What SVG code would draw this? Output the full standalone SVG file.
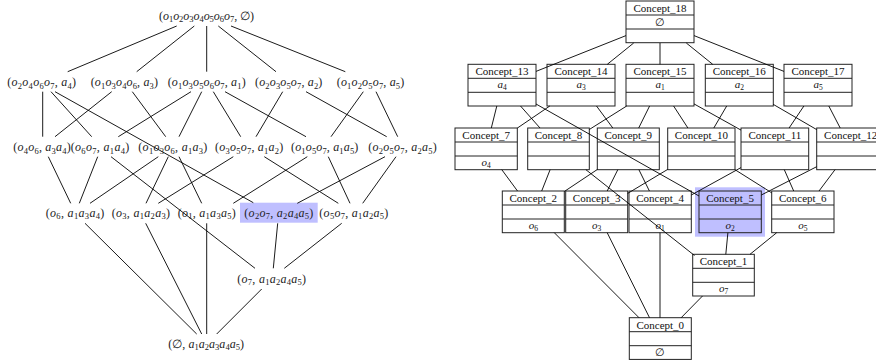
<svg xmlns="http://www.w3.org/2000/svg" width="876" height="360" viewBox="0 0 876 360">
<style>
.lt{font-family:"Liberation Serif","DejaVu Serif",serif;font-size:12px;fill:#222}
.i{font-style:italic}
.s{font-size:8.5px}
.ss{font-size:7.5px}
.e line{stroke:#000;stroke-width:0.9}
.bx{fill:#fff;stroke:#222;stroke-width:1}
.dv{stroke:#222;stroke-width:1;fill:none}
.ct{font-family:"Liberation Serif","DejaVu Serif",serif;font-size:11px;fill:#111;text-anchor:middle}
.hl{fill:#bfbfff}
</style>
<rect width="876" height="360" fill="#fff"/>

<!-- LEFT LATTICE -->
<rect class="hl" x="240" y="202.7" width="77.7" height="20"/>
<g id="edges-left" class="e">
<line x1="176.7" y1="26" x2="67.7" y2="71.7"/>
<line x1="194.3" y1="26" x2="136.7" y2="71.7"/>
<line x1="206.7" y1="26" x2="206.7" y2="71.7"/>
<line x1="218.3" y1="26" x2="276" y2="71.7"/>
<line x1="231" y1="26" x2="345.3" y2="71.7"/>
<line x1="42.7" y1="91.7" x2="42.7" y2="136.7"/>
<line x1="51" y1="91.7" x2="91.7" y2="136.7"/>
<line x1="55" y1="91.7" x2="253.3" y2="202.7"/>
<line x1="111.7" y1="91.7" x2="55" y2="136.7"/>
<line x1="132.3" y1="91.7" x2="165.7" y2="136.7"/>
<line x1="191" y1="91.7" x2="118.3" y2="136.7"/>
<line x1="201.7" y1="91.7" x2="179" y2="136.7"/>
<line x1="213.3" y1="91.7" x2="240.7" y2="136.7"/>
<line x1="225" y1="91.7" x2="306" y2="136.7"/>
<line x1="282.7" y1="91.7" x2="256" y2="136.7"/>
<line x1="306" y1="91.7" x2="386.7" y2="136.7"/>
<line x1="363.3" y1="91.7" x2="331" y2="136.7"/>
<line x1="376" y1="91.7" x2="397.7" y2="136.7"/>
<line x1="48.3" y1="156.7" x2="70.7" y2="203.3"/>
<line x1="97.7" y1="156.7" x2="79.3" y2="203.3"/>
<line x1="111" y1="156.7" x2="255" y2="268.3"/>
<line x1="158.3" y1="156.7" x2="90" y2="203.3"/>
<line x1="168.3" y1="156.7" x2="146" y2="203.3"/>
<line x1="179" y1="156.7" x2="201.7" y2="203.3"/>
<line x1="233.3" y1="156.7" x2="158.3" y2="203.3"/>
<line x1="264.3" y1="156.7" x2="338.3" y2="203.3"/>
<line x1="307.3" y1="156.7" x2="233.3" y2="203.3"/>
<line x1="328.3" y1="156.7" x2="350" y2="203.3"/>
<line x1="385" y1="156.7" x2="297.3" y2="203.3"/>
<line x1="396" y1="156.7" x2="362.7" y2="203.3"/>
<line x1="85" y1="223.3" x2="196.7" y2="334"/>
<line x1="145.7" y1="223.3" x2="201.7" y2="334"/>
<line x1="206.7" y1="223.3" x2="206.7" y2="334"/>
<line x1="277.7" y1="223.3" x2="273.3" y2="268.3"/>
<line x1="341.7" y1="223.3" x2="284.3" y2="268.3"/>
<line x1="261.7" y1="289" x2="216.7" y2="334"/>
</g>

<g id="l18"><text class="lt" x="159" y="19.5" textLength="95">(<tspan class="i">o</tspan><tspan class="s" dy="2.5">1</tspan><tspan class="i" dy="-2.5">o</tspan><tspan class="s" dy="2.5">2</tspan><tspan class="i" dy="-2.5">o</tspan><tspan class="s" dy="2.5">3</tspan><tspan class="i" dy="-2.5">o</tspan><tspan class="s" dy="2.5">4</tspan><tspan class="i" dy="-2.5">o</tspan><tspan class="s" dy="2.5">5</tspan><tspan class="i" dy="-2.5">o</tspan><tspan class="s" dy="2.5">6</tspan><tspan class="i" dy="-2.5">o</tspan><tspan class="s" dy="2.5">7</tspan><tspan dy="-2.5">, ∅)</tspan></text></g>

<g id="l13"><text class="lt" x="7.3" y="86.2" textLength="68.7">(<tspan class="i">o</tspan><tspan class="s" dy="2.5">2</tspan><tspan class="i" dy="-2.5">o</tspan><tspan class="s" dy="2.5">4</tspan><tspan class="i" dy="-2.5">o</tspan><tspan class="s" dy="2.5">6</tspan><tspan class="i" dy="-2.5">o</tspan><tspan class="s" dy="2.5">7</tspan><tspan dy="-2.5">, </tspan><tspan class="i">a</tspan><tspan class="s" dy="2.5">4</tspan><tspan dy="-2.5">)</tspan></text></g>
<g id="l14"><text class="lt" x="90.7" y="86.2" textLength="67.3">(<tspan class="i">o</tspan><tspan class="s" dy="2.5">1</tspan><tspan class="i" dy="-2.5">o</tspan><tspan class="s" dy="2.5">3</tspan><tspan class="i" dy="-2.5">o</tspan><tspan class="s" dy="2.5">4</tspan><tspan class="i" dy="-2.5">o</tspan><tspan class="s" dy="2.5">6</tspan><tspan dy="-2.5">, </tspan><tspan class="i">a</tspan><tspan class="s" dy="2.5">3</tspan><tspan dy="-2.5">)</tspan></text></g>
<g id="l15"><text class="lt" x="167.7" y="86.2" textLength="78">(<tspan class="i">o</tspan><tspan class="s" dy="2.5">1</tspan><tspan class="i" dy="-2.5">o</tspan><tspan class="s" dy="2.5">3</tspan><tspan class="i" dy="-2.5">o</tspan><tspan class="s" dy="2.5">5</tspan><tspan class="i" dy="-2.5">o</tspan><tspan class="s" dy="2.5">6</tspan><tspan class="i" dy="-2.5">o</tspan><tspan class="s" dy="2.5">7</tspan><tspan dy="-2.5">, </tspan><tspan class="i">a</tspan><tspan class="s" dy="2.5">1</tspan><tspan dy="-2.5">)</tspan></text></g>
<g id="l16"><text class="lt" x="255" y="86.2" textLength="67.3">(<tspan class="i">o</tspan><tspan class="s" dy="2.5">2</tspan><tspan class="i" dy="-2.5">o</tspan><tspan class="s" dy="2.5">3</tspan><tspan class="i" dy="-2.5">o</tspan><tspan class="s" dy="2.5">5</tspan><tspan class="i" dy="-2.5">o</tspan><tspan class="s" dy="2.5">7</tspan><tspan dy="-2.5">, </tspan><tspan class="i">a</tspan><tspan class="s" dy="2.5">2</tspan><tspan dy="-2.5">)</tspan></text></g>
<g id="l17"><text class="lt" x="336.7" y="86.2" textLength="67.6">(<tspan class="i">o</tspan><tspan class="s" dy="2.5">1</tspan><tspan class="i" dy="-2.5">o</tspan><tspan class="s" dy="2.5">2</tspan><tspan class="i" dy="-2.5">o</tspan><tspan class="s" dy="2.5">5</tspan><tspan class="i" dy="-2.5">o</tspan><tspan class="s" dy="2.5">7</tspan><tspan dy="-2.5">, </tspan><tspan class="i">a</tspan><tspan class="s" dy="2.5">5</tspan><tspan dy="-2.5">)</tspan></text></g>

<g id="l7"><text class="lt" x="13.3" y="151.2" textLength="57.4">(<tspan class="i">o</tspan><tspan class="s" dy="2.5">4</tspan><tspan class="i" dy="-2.5">o</tspan><tspan class="s" dy="2.5">6</tspan><tspan dy="-2.5">, </tspan><tspan class="i">a</tspan><tspan class="s" dy="2.5">3</tspan><tspan class="i" dy="-2.5">a</tspan><tspan class="s" dy="2.5">4</tspan><tspan dy="-2.5">)</tspan></text></g>
<g id="l8"><text class="lt" x="70.7" y="151.2" textLength="58.6">(<tspan class="i">o</tspan><tspan class="s" dy="2.5">6</tspan><tspan class="i" dy="-2.5">o</tspan><tspan class="s" dy="2.5">7</tspan><tspan dy="-2.5">, </tspan><tspan class="i">a</tspan><tspan class="s" dy="2.5">1</tspan><tspan class="i" dy="-2.5">a</tspan><tspan class="s" dy="2.5">4</tspan><tspan dy="-2.5">)</tspan></text></g>
<g id="l9"><text class="lt" x="138.3" y="151.2" textLength="69">(<tspan class="i">o</tspan><tspan class="s" dy="2.5">1</tspan><tspan class="i" dy="-2.5">o</tspan><tspan class="s" dy="2.5">3</tspan><tspan class="i" dy="-2.5">o</tspan><tspan class="s" dy="2.5">6</tspan><tspan dy="-2.5">, </tspan><tspan class="i">a</tspan><tspan class="s" dy="2.5">1</tspan><tspan class="i" dy="-2.5">a</tspan><tspan class="s" dy="2.5">3</tspan><tspan dy="-2.5">)</tspan></text></g>
<g id="l10"><text class="lt" x="215" y="151.2" textLength="68.3">(<tspan class="i">o</tspan><tspan class="s" dy="2.5">3</tspan><tspan class="i" dy="-2.5">o</tspan><tspan class="s" dy="2.5">5</tspan><tspan class="i" dy="-2.5">o</tspan><tspan class="s" dy="2.5">7</tspan><tspan dy="-2.5">, </tspan><tspan class="i">a</tspan><tspan class="s" dy="2.5">1</tspan><tspan class="i" dy="-2.5">a</tspan><tspan class="s" dy="2.5">2</tspan><tspan dy="-2.5">)</tspan></text></g>
<g id="l11"><text class="lt" x="291" y="151.2" textLength="67.3">(<tspan class="i">o</tspan><tspan class="s" dy="2.5">1</tspan><tspan class="i" dy="-2.5">o</tspan><tspan class="s" dy="2.5">5</tspan><tspan class="i" dy="-2.5">o</tspan><tspan class="s" dy="2.5">7</tspan><tspan dy="-2.5">, </tspan><tspan class="i">a</tspan><tspan class="s" dy="2.5">1</tspan><tspan class="i" dy="-2.5">a</tspan><tspan class="s" dy="2.5">5</tspan><tspan dy="-2.5">)</tspan></text></g>
<g id="l12"><text class="lt" x="368.3" y="151.2" textLength="68.4">(<tspan class="i">o</tspan><tspan class="s" dy="2.5">2</tspan><tspan class="i" dy="-2.5">o</tspan><tspan class="s" dy="2.5">5</tspan><tspan class="i" dy="-2.5">o</tspan><tspan class="s" dy="2.5">7</tspan><tspan dy="-2.5">, </tspan><tspan class="i">a</tspan><tspan class="s" dy="2.5">2</tspan><tspan class="i" dy="-2.5">a</tspan><tspan class="s" dy="2.5">5</tspan><tspan dy="-2.5">)</tspan></text></g>

<g id="l2"><text class="lt" x="45.7" y="216.8" textLength="58.6">(<tspan class="i">o</tspan><tspan class="s" dy="2.5">6</tspan><tspan dy="-2.5">, </tspan><tspan class="i">a</tspan><tspan class="s" dy="2.5">1</tspan><tspan class="i" dy="-2.5">a</tspan><tspan class="s" dy="2.5">3</tspan><tspan class="i" dy="-2.5">a</tspan><tspan class="s" dy="2.5">4</tspan><tspan dy="-2.5">)</tspan></text></g>
<g id="l3"><text class="lt" x="111.7" y="216.8" textLength="58.3">(<tspan class="i">o</tspan><tspan class="s" dy="2.5">3</tspan><tspan dy="-2.5">, </tspan><tspan class="i">a</tspan><tspan class="s" dy="2.5">1</tspan><tspan class="i" dy="-2.5">a</tspan><tspan class="s" dy="2.5">2</tspan><tspan class="i" dy="-2.5">a</tspan><tspan class="s" dy="2.5">3</tspan><tspan dy="-2.5">)</tspan></text></g>
<g id="l4"><text class="lt" x="177.7" y="216.8" textLength="58">(<tspan class="i">o</tspan><tspan class="s" dy="2.5">1</tspan><tspan dy="-2.5">, </tspan><tspan class="i">a</tspan><tspan class="s" dy="2.5">1</tspan><tspan class="i" dy="-2.5">a</tspan><tspan class="s" dy="2.5">3</tspan><tspan class="i" dy="-2.5">a</tspan><tspan class="s" dy="2.5">5</tspan><tspan dy="-2.5">)</tspan></text></g>
<g id="l5"><text class="lt" x="244.3" y="216.8" textLength="69">(<tspan class="i">o</tspan><tspan class="s" dy="2.5">2</tspan><tspan class="i" dy="-2.5">o</tspan><tspan class="s" dy="2.5">7</tspan><tspan dy="-2.5">, </tspan><tspan class="i">a</tspan><tspan class="s" dy="2.5">2</tspan><tspan class="i" dy="-2.5">a</tspan><tspan class="s" dy="2.5">4</tspan><tspan class="i" dy="-2.5">a</tspan><tspan class="s" dy="2.5">5</tspan><tspan dy="-2.5">)</tspan></text></g>
<g id="l6"><text class="lt" x="319.3" y="216.8" textLength="69">(<tspan class="i">o</tspan><tspan class="s" dy="2.5">5</tspan><tspan class="i" dy="-2.5">o</tspan><tspan class="s" dy="2.5">7</tspan><tspan dy="-2.5">, </tspan><tspan class="i">a</tspan><tspan class="s" dy="2.5">1</tspan><tspan class="i" dy="-2.5">a</tspan><tspan class="s" dy="2.5">2</tspan><tspan class="i" dy="-2.5">a</tspan><tspan class="s" dy="2.5">5</tspan><tspan dy="-2.5">)</tspan></text></g>

<g id="l1"><text class="lt" x="237.3" y="282.5" textLength="68.7">(<tspan class="i">o</tspan><tspan class="s" dy="2.5">7</tspan><tspan dy="-2.5">, </tspan><tspan class="i">a</tspan><tspan class="s" dy="2.5">1</tspan><tspan class="i" dy="-2.5">a</tspan><tspan class="s" dy="2.5">2</tspan><tspan class="i" dy="-2.5">a</tspan><tspan class="s" dy="2.5">4</tspan><tspan class="i" dy="-2.5">a</tspan><tspan class="s" dy="2.5">5</tspan><tspan dy="-2.5">)</tspan></text></g>
<g id="l0"><text class="lt" x="168.3" y="347.5" textLength="75.7">(∅, <tspan class="i">a</tspan><tspan class="s" dy="2.5">1</tspan><tspan class="i" dy="-2.5">a</tspan><tspan class="s" dy="2.5">2</tspan><tspan class="i" dy="-2.5">a</tspan><tspan class="s" dy="2.5">3</tspan><tspan class="i" dy="-2.5">a</tspan><tspan class="s" dy="2.5">4</tspan><tspan class="i" dy="-2.5">a</tspan><tspan class="s" dy="2.5">5</tspan><tspan dy="-2.5">)</tspan></text></g>

<!-- RIGHT LATTICE -->
<rect class="hl" x="695" y="187.3" width="70" height="49.4"/>

<g id="c18"><rect class="bx" x="626" y="1" width="68" height="41.7"/><path class="dv" d="M626 15h68M626 29h68"/><text class="ct" x="660" y="12">Concept_18</text><text class="ct" x="660" y="25.5">∅</text></g>

<g id="c13"><rect class="bx" x="468" y="64.3" width="68" height="41.7"/><path class="dv" d="M468 78.3h68M468 92.3h68"/><text class="ct" x="502" y="75.3">Concept_13</text><text class="ct" x="502" y="88.3"><tspan class="i">a</tspan><tspan class="ss" dy="2">4</tspan></text></g>
<g id="c14"><rect class="bx" x="547" y="64.3" width="68" height="41.7"/><path class="dv" d="M547 78.3h68M547 92.3h68"/><text class="ct" x="581" y="75.3">Concept_14</text><text class="ct" x="581" y="88.3"><tspan class="i">a</tspan><tspan class="ss" dy="2">3</tspan></text></g>
<g id="c15"><rect class="bx" x="626" y="64.3" width="68" height="41.7"/><path class="dv" d="M626 78.3h68M626 92.3h68"/><text class="ct" x="660" y="75.3">Concept_15</text><text class="ct" x="660" y="88.3"><tspan class="i">a</tspan><tspan class="ss" dy="2">1</tspan></text></g>
<g id="c16"><rect class="bx" x="705.3" y="64.3" width="68" height="41.7"/><path class="dv" d="M705.3 78.3h68M705.3 92.3h68"/><text class="ct" x="739.3" y="75.3">Concept_16</text><text class="ct" x="739.3" y="88.3"><tspan class="i">a</tspan><tspan class="ss" dy="2">2</tspan></text></g>
<g id="c17"><rect class="bx" x="784" y="64.3" width="68" height="41.7"/><path class="dv" d="M784 78.3h68M784 92.3h68"/><text class="ct" x="818" y="75.3">Concept_17</text><text class="ct" x="818" y="88.3"><tspan class="i">a</tspan><tspan class="ss" dy="2">5</tspan></text></g>

<g id="c7"><rect class="bx" x="455" y="128" width="62.3" height="41.7"/><path class="dv" d="M455 142h62.3M455 156h62.3"/><text class="ct" x="486.2" y="139">Concept_7</text><text class="ct" x="486.2" y="165.5"><tspan class="i">o</tspan><tspan class="ss" dy="2">4</tspan></text></g>
<g id="c8"><rect class="bx" x="527.7" y="128" width="61.6" height="41.7"/><path class="dv" d="M527.7 142h61.6M527.7 156h61.6"/><text class="ct" x="558.5" y="139">Concept_8</text></g>
<g id="c9"><rect class="bx" x="597.3" y="128" width="62" height="41.7"/><path class="dv" d="M597.3 142h62M597.3 156h62"/><text class="ct" x="628.3" y="139">Concept_9</text></g>
<g id="c10"><rect class="bx" x="667.7" y="128" width="67.3" height="41.7"/><path class="dv" d="M667.7 142h67.3M667.7 156h67.3"/><text class="ct" x="701.4" y="139">Concept_10</text></g>
<g id="c11"><rect class="bx" x="741" y="128" width="67.7" height="41.7"/><path class="dv" d="M741 142h67.7M741 156h67.7"/><text class="ct" x="774.9" y="139">Concept_11</text></g>
<g id="c12"><rect class="bx" x="816.7" y="128" width="68" height="41.7"/><path class="dv" d="M816.7 142h68M816.7 156h68"/><text class="ct" x="850.7" y="139">Concept_12</text></g>

<g id="c2"><rect class="bx" x="502.3" y="191" width="62" height="41.7"/><path class="dv" d="M502.3 205h62M502.3 219h62"/><text class="ct" x="533.3" y="202">Concept_2</text><text class="ct" x="533.3" y="228.5"><tspan class="i">o</tspan><tspan class="ss" dy="2">6</tspan></text></g>
<g id="c3"><rect class="bx" x="565.7" y="191" width="62" height="41.7"/><path class="dv" d="M565.7 205h62M565.7 219h62"/><text class="ct" x="596.7" y="202">Concept_3</text><text class="ct" x="596.7" y="228.5"><tspan class="i">o</tspan><tspan class="ss" dy="2">3</tspan></text></g>
<g id="c4"><rect class="bx" x="629" y="191" width="62.3" height="41.7"/><path class="dv" d="M629 205h62.3M629 219h62.3"/><text class="ct" x="660.1" y="202">Concept_4</text><text class="ct" x="660.1" y="228.5"><tspan class="i">o</tspan><tspan class="ss" dy="2">1</tspan></text></g>
<g id="c5"><rect class="bx" x="699" y="191" width="62.3" height="41.7" style="fill:#bfbfff"/><path class="dv" d="M699 205h62.3M699 219h62.3"/><text class="ct" x="730.1" y="202">Concept_5</text><text class="ct" x="730.1" y="228.5"><tspan class="i">o</tspan><tspan class="ss" dy="2">2</tspan></text></g>
<g id="c6"><rect class="bx" x="771.7" y="191" width="62.3" height="41.7"/><path class="dv" d="M771.7 205h62.3M771.7 219h62.3"/><text class="ct" x="802.8" y="202">Concept_6</text><text class="ct" x="802.8" y="228.5"><tspan class="i">o</tspan><tspan class="ss" dy="2">5</tspan></text></g>

<g id="c1"><rect class="bx" x="692.7" y="254.3" width="61.6" height="41.7"/><path class="dv" d="M692.7 268.3h61.6M692.7 282.3h61.6"/><text class="ct" x="723.5" y="265.3">Concept_1</text><text class="ct" x="723.5" y="291.8"><tspan class="i">o</tspan><tspan class="ss" dy="2">7</tspan></text></g>

<g id="c0"><rect class="bx" x="629.3" y="317.7" width="62" height="41.7"/><path class="dv" d="M629.3 331.7h62M629.3 345.7h62"/><text class="ct" x="660.3" y="328.7">Concept_0</text><text class="ct" x="660.3" y="356">∅</text></g>

<g id="edges-right" class="e">
<line x1="626" y1="35.6" x2="536" y2="71.4"/>
<line x1="633.7" y1="43" x2="607.3" y2="64.3"/>
<line x1="660" y1="43" x2="660" y2="64.3"/>
<line x1="686.3" y1="43" x2="712.7" y2="64.3"/>
<line x1="694" y1="35.6" x2="784" y2="71.4"/>
<line x1="496.8" y1="106" x2="491.3" y2="128"/>
<line x1="520.5" y1="106" x2="540" y2="128"/>
<line x1="536" y1="104" x2="699" y2="196"/>
<line x1="549.8" y1="106" x2="517.3" y2="128.1"/>
<line x1="596.5" y1="106" x2="612.8" y2="128"/>
<line x1="626.7" y1="106" x2="589.3" y2="129.5"/>
<line x1="649.6" y1="106" x2="638.7" y2="128"/>
<line x1="673.6" y1="106" x2="687.9" y2="128"/>
<line x1="694" y1="103.9" x2="741" y2="130.1"/>
<line x1="726.7" y1="106" x2="713.8" y2="128"/>
<line x1="773.3" y1="104.4" x2="816.7" y2="129.6"/>
<line x1="803.9" y1="106" x2="789.1" y2="128"/>
<line x1="828.8" y1="106" x2="840.2" y2="128"/>
<line x1="501.8" y1="169.7" x2="517.5" y2="191"/>
<line x1="550.1" y1="169.7" x2="541.7" y2="191"/>
<line x1="585.9" y1="169.7" x2="694.5" y2="255.5"/>
<line x1="597.3" y1="169.5" x2="564.3" y2="191.5"/>
<line x1="617.8" y1="169.7" x2="607.2" y2="191"/>
<line x1="638.9" y1="169.7" x2="649.4" y2="191"/>
<line x1="667.7" y1="169.4" x2="627.7" y2="193.4"/>
<line x1="735" y1="169.7" x2="771.7" y2="192.8"/>
<line x1="741" y1="167.6" x2="691.3" y2="195"/>
<line x1="784.3" y1="169.7" x2="793.7" y2="191"/>
<line x1="816.7" y1="166.7" x2="761.3" y2="195"/>
<line x1="835" y1="169.7" x2="819" y2="191"/>
<line x1="554.3" y1="232.7" x2="639" y2="317.7"/>
<line x1="607.2" y1="232.7" x2="649.5" y2="317.7"/>
<line x1="660" y1="232.7" x2="660" y2="317.7"/>
<line x1="727.9" y1="232.7" x2="725.8" y2="254.3"/>
<line x1="776.7" y1="232.7" x2="750" y2="254.3"/>
<line x1="702.5" y1="296" x2="681.2" y2="317.7"/>
</g>
</svg>
